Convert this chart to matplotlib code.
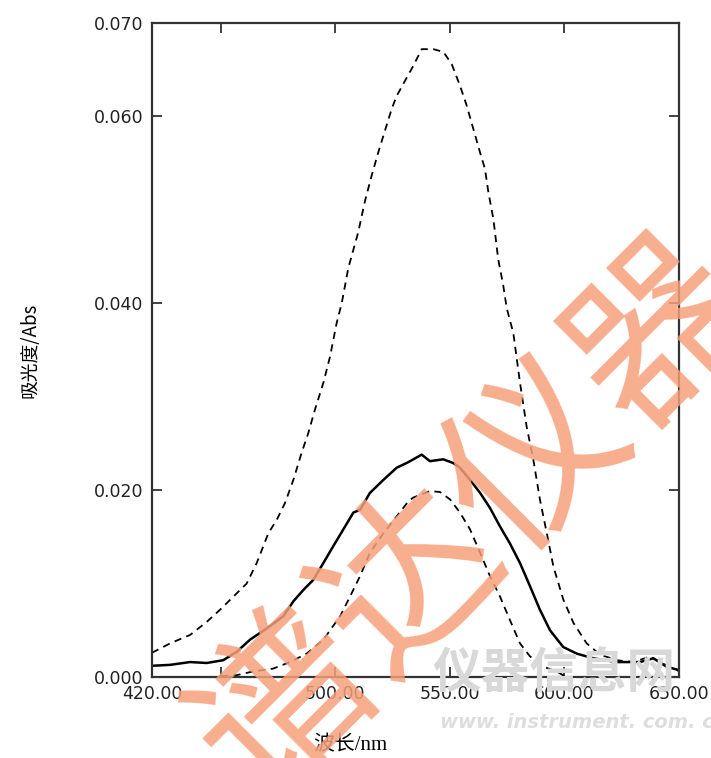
import numpy as np
import matplotlib
matplotlib.use("Agg")
import matplotlib.pyplot as plt

# absorbance spectra (wavelength in nm, absorbance in Abs)
wl_high = [420.0, 427.9, 436.6, 443.9, 449.7, 455.5, 461.3, 465.7, 470.8, 474.4,
           478.0, 481.7, 485.3, 488.2, 491.1, 494.8, 497.7, 500.6, 502.8, 505.7,
           510.0, 513.0, 515.9, 518.8, 521.7, 524.6, 526.8, 530.4, 534.0, 537.7,
           542.8, 547.2, 550.8, 554.4, 557.3, 560.2, 563.1, 565.3, 566.8, 569.0,
           571.1, 573.3, 574.8, 577.7, 580.6, 583.5, 586.4, 589.3, 592.3, 595.2,
           599.5, 603.9, 609.7, 615.5, 622.8, 630.1, 637.4, 643.2, 649.0, 650.0]
abs_high = [0.0026, 0.0036, 0.0045, 0.0059, 0.0072, 0.0086, 0.0100, 0.0122, 0.0154, 0.0168,
            0.0186, 0.0211, 0.0240, 0.0261, 0.0286, 0.0315, 0.0343, 0.0379, 0.0400, 0.0438,
            0.0476, 0.0510, 0.0537, 0.0562, 0.0585, 0.0608, 0.0622, 0.0638, 0.0654, 0.0672,
            0.0672, 0.0669, 0.0656, 0.0633, 0.0612, 0.0587, 0.0562, 0.0544, 0.0519, 0.0490,
            0.0447, 0.0419, 0.0395, 0.0368, 0.0315, 0.0268, 0.0233, 0.0190, 0.0154, 0.0118,
            0.0083, 0.0058, 0.0036, 0.0024, 0.0018, 0.0016, 0.0022, 0.0014, 0.0008, 0.0006]

wl_mid = [420.0, 427.9, 436.6, 443.9, 451.1, 457.0, 462.8, 470.1, 477.3, 481.7,
          486.0, 490.4, 494.8, 499.1, 503.5, 507.9, 510.8, 515.1, 521.0, 526.8,
          531.9, 537.7, 541.3, 547.1, 551.5, 554.4, 558.8, 563.2, 567.5, 571.9,
          576.2, 580.6, 585.0, 589.3, 593.7, 599.5, 605.4, 612.6, 622.8, 633.0,
          638.8, 644.6, 649.0, 650.0]
abs_mid = [0.0012, 0.0013, 0.0016, 0.0015, 0.0018, 0.0027, 0.0040, 0.0052, 0.0065, 0.0081,
           0.0093, 0.0104, 0.0122, 0.0140, 0.0158, 0.0176, 0.0179, 0.0197, 0.0211, 0.0224,
           0.0230, 0.0238, 0.0231, 0.0233, 0.0229, 0.0224, 0.0211, 0.0197, 0.0181, 0.0161,
           0.0143, 0.0122, 0.0097, 0.0072, 0.0050, 0.0032, 0.0025, 0.0020, 0.0016, 0.0016,
           0.0020, 0.0011, 0.0008, 0.0007]

wl_low = [450.0, 457.0, 464.2, 472.9, 480.2, 487.5, 494.8, 502.1, 506.4, 510.8,
          515.1, 521.0, 526.8, 531.9, 534.0, 541.3, 545.7, 550.1, 554.4, 558.8,
          563.2, 567.5, 571.9, 576.2, 580.6, 585.0, 590.8, 596.6, 600.0]
abs_low = [0.0001, 0.0002, 0.0006, 0.0009, 0.0016, 0.0025, 0.0040, 0.0065, 0.0086, 0.0108,
           0.0133, 0.0154, 0.0172, 0.0188, 0.0192, 0.0199, 0.0198, 0.0190, 0.0176, 0.0158,
           0.0133, 0.0108, 0.0086, 0.0061, 0.0036, 0.0022, 0.0011, 0.0006, 0.0001]

x_ticks = [420, 450, 500, 550, 600, 650]
x_labels = ['420.00', '', '500.00', '550.00', '600.00', '650.00']
y_ticks = [0.0, 0.02, 0.04, 0.06, 0.07]
y_labels = ['0.000', '0.020', '0.040', '0.060', '0.070']

W, H = 711, 758
fig = plt.figure(figsize=(W / 100, H / 100), dpi=100)
ax = fig.add_axes([152 / W, 1 - 677 / H, 527 / W, 654 / H])

dash = (0, (4, 3))
ax.plot(wl_high, abs_high, color='black', lw=1.3, linestyle=dash)
ax.plot(wl_mid, abs_mid, color='black', lw=1.8)
ax.plot(wl_low, abs_low, color='black', lw=1.3, linestyle=dash)

ax.set_xlim(420, 650)
ax.set_ylim(0, 0.07)
ax.set_xticks(x_ticks)
ax.set_xticklabels(x_labels)
ax.set_yticks(y_ticks)
ax.set_yticklabels(y_labels)
ax.tick_params(direction='in', length=7, width=1.3, colors='#333333',
               labelcolor='#222222', labelsize=12.5, top=True, right=True, pad=6)
for s in ax.spines.values():
    s.set_linewidth(1.6)
    s.set_color('#333333')

# axis titles
fig.text(350 / W, 1 - 746 / H, '波长/nm', family=['Liberation Serif', 'Noto Sans CJK SC'],
         fontsize=15, ha='center', va='center')
fig.text(30 / W, 1 - 350 / H, '吸光度/Abs', family=['Noto Sans CJK SC', 'DejaVu Sans'],
         fontsize=13.5, rotation=90, ha='center', va='center')

# site stamp in the lower right corner
fig.text(432 / W, 1 - 674 / H, '仪器信息网', family='Noto Sans CJK SC', fontsize=35,
         fontweight='bold', color='#d8d8d8', ha='left', va='center', zorder=0)
fig.text(440 / W, 1 - 723 / H, 'www. instrument. com. cn', family='DejaVu Sans',
         fontsize=14, fontstyle='italic', fontweight='bold', color='#dedede',
         ha='left', va='center', zorder=0)

# diagonal orange stamp across the plot
fig.text(475 / W, 1 - 520 / H, '谱达仪器', family='Noto Sans CJK SC', fontsize=127,
         fontweight='medium', rotation=45, rotation_mode='anchor', ha='center',
         va='center', color='#f6a07a', alpha=0.85, zorder=10)

fig.savefig('out.png', dpi=100)
